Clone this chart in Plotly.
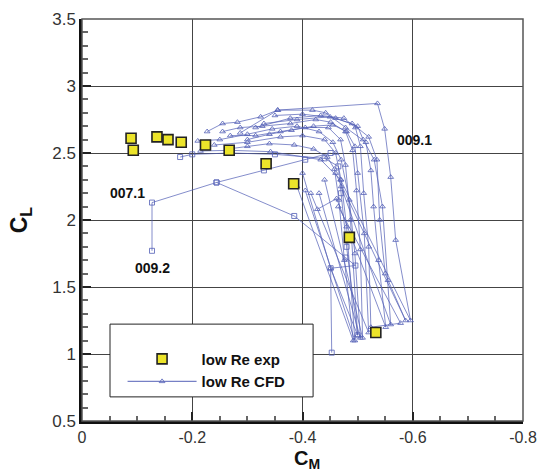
import plotly.graph_objects as go

# ---------------- data ----------------
exp_cm = [-0.089, -0.093, -0.136, -0.156, -0.180, -0.224, -0.267, -0.334, -0.384, -0.485, -0.533]
exp_cl = [2.61, 2.52, 2.62, 2.60, 2.58, 2.56, 2.52, 2.42, 2.27, 1.87, 1.16]

# CFD trajectories (several cases / cycles)
cfd_sq1_cm = [-0.127, -0.127, -0.244, -0.385, -0.478, -0.496, -0.451, -0.453]
cfd_sq1_cl = [1.77, 2.13, 2.28, 2.03, 1.72, 1.66, 1.64, 1.01]

cfd_sq2_cm = [-0.244, -0.330, -0.405, -0.451]
cfd_sq2_cl = [2.28, 2.37, 2.45, 2.50]

cfd_sq3_cm = [-0.178, -0.200, -0.270, -0.350, -0.440, -0.465, -0.470, -0.480, -0.500]
cfd_sq3_cl = [2.47, 2.49, 2.50, 2.49, 2.46, 2.40, 2.20, 1.80, 1.14]

cfd_l1_cm = [-0.227, -0.255, -0.282, -0.324, -0.355, -0.418, -0.442, -0.478, -0.515, -0.524, -0.529, -0.538, -0.551, -0.462, -0.427]
cfd_l1_cl = [2.66, 2.72, 2.73, 2.77, 2.82, 2.82, 2.80, 2.69, 2.58, 2.37, 2.10, 1.70, 1.20, 2.16, 2.08]

cfd_l2_cm = [-0.255, -0.287, -0.327, -0.378, -0.424, -0.451, -0.478, -0.491, -0.498, -0.505, -0.509, -0.440]
cfd_l2_cl = [2.66, 2.69, 2.70, 2.72, 2.75, 2.73, 2.66, 2.52, 2.22, 1.78, 1.12, 2.30]

cfd_l3_cm = [-0.287, -0.355, -0.536, -0.549, -0.560, -0.569, -0.596, -0.469, -0.433, -0.342, -0.269, -0.215]
cfd_l3_cl = [2.65, 2.82, 2.87, 2.68, 2.32, 1.85, 1.25, 2.30, 2.45, 2.51, 2.52, 2.515]

cfd_l4_cm = [-0.269, -0.315, -0.360, -0.405, -0.447, -0.469, -0.478, -0.487, -0.500, -0.451, -0.400]
cfd_l4_cl = [2.63, 2.63, 2.66, 2.69, 2.69, 2.60, 2.41, 2.00, 1.14, 1.64, 2.35]

cfd_l5_cm = [-0.315, -0.378, -0.433, -0.475, -0.496, -0.505, -0.511, -0.520, -0.524, -0.578, -0.465]
cfd_l5_cl = [2.69, 2.76, 2.78, 2.76, 2.69, 2.55, 2.20, 1.80, 1.20, 1.23, 2.10]

cfd_l6_cm = [-0.240, -0.300, -0.360, -0.400, -0.440, -0.460, -0.470, -0.480, -0.495, -0.405]
cfd_l6_cl = [2.56, 2.58, 2.62, 2.63, 2.60, 2.50, 2.30, 1.95, 1.10, 2.22]

cfd_l7_cm = [-0.330, -0.390, -0.450, -0.490, -0.520, -0.535, -0.540, -0.550, -0.587, -0.460]
cfd_l7_cl = [2.72, 2.75, 2.77, 2.72, 2.62, 2.45, 2.00, 1.60, 1.25, 2.35]

cfd_l8_cm = [-0.350, -0.400, -0.460, -0.500, -0.510, -0.530, -0.545, -0.555, -0.560, -0.470]
cfd_l8_cl = [2.78, 2.79, 2.76, 2.70, 2.60, 2.45, 2.10, 1.55, 1.22, 2.25]

cfd_l9_cm = [-0.210, -0.250, -0.300, -0.345, -0.390, -0.430, -0.455, -0.470, -0.485, -0.495, -0.505, -0.430]
cfd_l9_cl = [2.59, 2.60, 2.64, 2.68, 2.70, 2.66, 2.58, 2.45, 2.15, 1.75, 1.12, 2.20]

cfd_l10_cm = [-0.300, -0.340, -0.380, -0.420, -0.455, -0.480, -0.495, -0.500, -0.512, -0.520, -0.415]
cfd_l10_cl = [2.60, 2.64, 2.67, 2.70, 2.71, 2.66, 2.55, 2.35, 1.90, 1.16, 2.20]

cfd_l11_cm = [-0.265, -0.300, -0.340, -0.385, -0.420, -0.445, -0.458, -0.466, -0.476, -0.492, -0.390]
cfd_l11_cl = [2.53, 2.55, 2.57, 2.56, 2.53, 2.47, 2.38, 2.15, 1.70, 1.10, 2.25]

x_ticks = [0, -0.2, -0.4, -0.6, -0.8]
x_tick_labels = ["0", "-0.2", "-0.4", "-0.6", "-0.8"]
y_ticks = [0.5, 1, 1.5, 2, 2.5, 3, 3.5]
y_tick_labels = ["0.5", "1", "1.5", "2", "2.5", "3", "3.5"]

case_labels = ["009.1", "007.1", "009.2"]
case_cm = [-0.604, -0.082, -0.127]
case_cl = [2.60, 2.20, 1.64]

x_title = "<b>C<sub>M</sub></b>"
y_title = "<b>C<sub>L</sub></b>"

# ---------------- figure ----------------
CFD_COLOR = "rgba(84,96,182,0.8)"
fig = go.Figure()

tri_paths = [(cfd_l1_cm, cfd_l1_cl), (cfd_l2_cm, cfd_l2_cl), (cfd_l3_cm, cfd_l3_cl),
             (cfd_l4_cm, cfd_l4_cl), (cfd_l5_cm, cfd_l5_cl), (cfd_l6_cm, cfd_l6_cl),
             (cfd_l7_cm, cfd_l7_cl), (cfd_l8_cm, cfd_l8_cl), (cfd_l9_cm, cfd_l9_cl),
             (cfd_l10_cm, cfd_l10_cl), (cfd_l11_cm, cfd_l11_cl)]
sq_paths = [(cfd_sq1_cm, cfd_sq1_cl), (cfd_sq2_cm, cfd_sq2_cl), (cfd_sq3_cm, cfd_sq3_cl)]

for xs, ys in sq_paths:
    fig.add_trace(go.Scatter(x=xs, y=ys, mode="lines+markers", showlegend=False,
                             line=dict(color=CFD_COLOR, width=0.9),
                             marker=dict(symbol="square-open", size=5, color=CFD_COLOR,
                                         line=dict(width=1))))
for xs, ys in tri_paths:
    fig.add_trace(go.Scatter(x=xs, y=ys, mode="lines+markers", showlegend=False,
                             line=dict(color=CFD_COLOR, width=0.9),
                             marker=dict(symbol="triangle-up-open", size=5, color=CFD_COLOR,
                                         line=dict(width=1))))

fig.add_trace(go.Scatter(x=exp_cm, y=exp_cl, mode="markers", name="<b>low Re exp</b>",
                         marker=dict(symbol="square", size=10, color="#ece42a",
                                     line=dict(color="#222", width=1.6))))
# legend entry for CFD
fig.add_trace(go.Scatter(x=[None], y=[None], mode="lines+markers", name="<b>low Re CFD</b>",
                         line=dict(color=CFD_COLOR, width=1.2),
                         marker=dict(symbol="triangle-up-open", size=5, color=CFD_COLOR,
                                     line=dict(width=1))))

for t, xv, yv in zip(case_labels, case_cm, case_cl):
    fig.add_annotation(x=xv, y=yv, text="<b>" + t + "</b>", showarrow=False,
                       font=dict(family="Liberation Sans, Arial", size=14, color="#111"))

# axis titles
fig.add_annotation(x=0.51, y=-0.13, xref="paper", yref="paper", text=x_title,
                   showarrow=False, xanchor="center", yanchor="bottom",
                   borderpad=0,
                   font=dict(family="Liberation Sans, Arial", size=20, color="#111"))
fig.add_annotation(x=-0.14, y=0.5, xref="paper", yref="paper", text=y_title,
                   showarrow=False, xanchor="center", yanchor="middle", textangle=-90,
                   font=dict(family="Liberation Sans, Arial", size=23, color="#111"))

# legend box
fig.add_shape(type="rect", xref="paper", yref="paper", x0=0.0635, x1=0.524, y0=0.06, y1=0.241,
              line=dict(color="#222", width=1), fillcolor="white", layer="above")
# plot border (top / right)
fig.add_shape(type="rect", xref="paper", yref="paper", x0=0, x1=1, y0=0, y1=1,
              line=dict(color="#555", width=1.5), layer="above")

fig.update_layout(
    width=537, height=472,
    margin=dict(l=82, r=14, t=19, b=51),
    paper_bgcolor="white", plot_bgcolor="white",
    font=dict(family="Liberation Sans, Arial", color="#222"),
    legend=dict(x=0.092, y=0.195, xanchor="left", yanchor="top",
                bgcolor="rgba(0,0,0,0)", borderwidth=0, itemwidth=69,
                font=dict(family="Liberation Sans, Arial", size=15, color="#111"),
                tracegroupgap=0),
)

fig.update_xaxes(range=[0, -0.8], tickvals=x_ticks, ticktext=x_tick_labels,
                 ticklabeloverflow="allow", automargin=False,
                 showgrid=True, gridcolor="#444", gridwidth=1.1,
                 showline=True, linecolor="#111", linewidth=2.5,
                 ticks="inside", ticklen=9, tickwidth=1.5, tickcolor="#222",
                 minor=dict(dtick=0.05, tick0=0, ticks="inside", ticklen=5, tickcolor="#666", showgrid=False),
                 tickfont=dict(size=16, color="#333"), zeroline=False)
fig.update_yaxes(range=[0.5, 3.5], tickvals=y_ticks, ticktext=y_tick_labels,
                 automargin=False,
                 showgrid=True, gridcolor="#444", gridwidth=1.1,
                 showline=True, linecolor="#111", linewidth=2.5,
                 ticks="inside", ticklen=9, tickwidth=1.5, tickcolor="#222",
                 minor=dict(dtick=0.1, tick0=0.5, ticks="inside", ticklen=6, tickcolor="#666", showgrid=False),
                 tickfont=dict(size=17, color="#333"), zeroline=False)

fig.write_html("out.html")
